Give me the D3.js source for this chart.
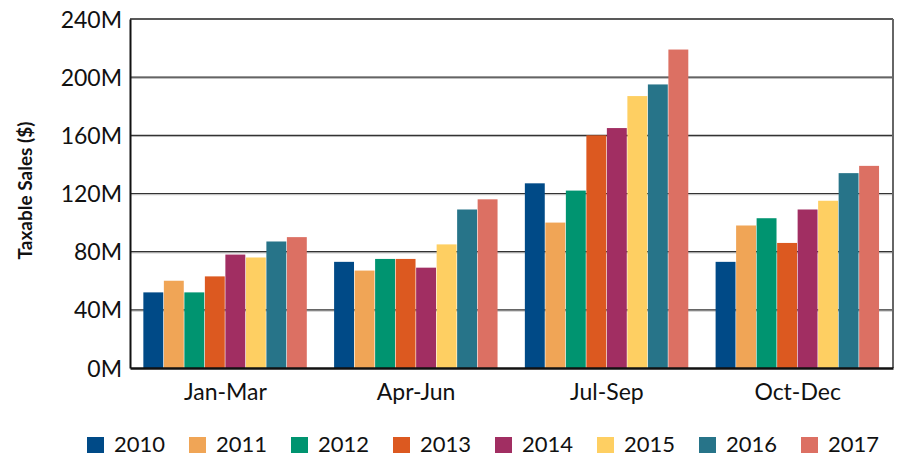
<!DOCTYPE html>
<html>
<head>
<meta charset="utf-8">
<script src="https://cdn.jsdelivr.net/npm/d3@7"></script>
<style>
    body { margin: 0; background: #fff; }
    text { font-family: Lato, "Open Sans", sans-serif; fill: #111; }
</style>
</head>
<body>
<svg id="chart"></svg>
<script>
// Quarterly taxable sales, millions of dollars
const quarters = ['Jan-Mar', 'Apr-Jun', 'Jul-Sep', 'Oct-Dec'];
const years = ['2010', '2011', '2012', '2013', '2014', '2015', '2016', '2017'];
const colors = ['#004a87', '#f0a556', '#009470', '#dc5920', '#a12e62', '#fecf62', '#277489', '#dc7063'];

const sales2010 = [52, 73, 127, 73];
const sales2011 = [60, 67, 100, 98];
const sales2012 = [52, 75, 122, 103];
const sales2013 = [63, 75, 160, 86];
const sales2014 = [78, 69, 165, 109];
const sales2015 = [76, 85, 187, 115];
const sales2016 = [87, 109, 195, 134];
const sales2017 = [90, 116, 219, 139];
const series = [sales2010, sales2011, sales2012, sales2013, sales2014, sales2015, sales2016, sales2017];

const yTicks = [0, 40, 80, 120, 160, 200, 240];

const width = 902, height = 457;
const margin = { top: 19, right: 9, bottom: 89, left: 130 };
const innerW = width - margin.left - margin.right;
const innerH = height - margin.top - margin.bottom;

const svg = d3.select('#chart')
    .attr('width', width)
    .attr('height', height);

const g = svg.append('g')
    .attr('transform', `translate(${margin.left},${margin.top})`);

const x0 = d3.scaleBand()
    .domain(quarters)
    .range([0, innerW])
    .paddingInner(0.14)
    .paddingOuter(0.07);

const x1 = d3.scaleBand()
    .domain(years)
    .range([0, x0.bandwidth()]);

const y = d3.scaleLinear()
    .domain([0, 240])
    .range([innerH, 0]);

// gridlines (dark line with a light shadow under it)
const grid = g.append('g').attr('class', 'grid');
grid.selectAll('line.shadow')
    .data(yTicks.slice(1, -1))
    .enter().append('line')
    .attr('class', 'shadow')
    .attr('x1', 0).attr('x2', innerW)
    .attr('y1', d => y(d) + 1.2).attr('y2', d => y(d) + 1.2)
    .attr('stroke', '#b5b5b5')
    .attr('stroke-width', 1);
grid.selectAll('line.main')
    .data(yTicks.slice(1, -1))
    .enter().append('line')
    .attr('class', 'main')
    .attr('x1', 0).attr('x2', innerW)
    .attr('y1', d => y(d)).attr('y2', d => y(d))
    .attr('stroke', '#333')
    .attr('stroke-width', 1.2);

// bars
const rows = quarters.map((q, qi) => ({
    quarter: q,
    values: years.map((yr, si) => ({ year: yr, value: series[si][qi], color: colors[si] }))
}));

g.append('g')
    .selectAll('g')
    .data(rows)
    .enter().append('g')
    .attr('transform', d => `translate(${x0(d.quarter)},0)`)
    .selectAll('rect')
    .data(d => d.values)
    .enter().append('rect')
    .attr('x', d => x1(d.year))
    .attr('y', d => y(d.value))
    .attr('width', x1.bandwidth() - 0.6)
    .attr('height', d => innerH - y(d.value))
    .attr('fill', d => d.color);

// frame
g.append('line')
    .attr('x1', 0).attr('x2', innerW)
    .attr('y1', 0).attr('y2', 0)
    .attr('stroke', '#222').attr('stroke-width', 1.5);
g.append('line')
    .attr('x1', innerW).attr('x2', innerW)
    .attr('y1', 0).attr('y2', innerH)
    .attr('stroke', '#666').attr('stroke-width', 2);

// y axis
const yAxis = g.append('g')
    .call(d3.axisLeft(y).tickValues(yTicks).tickSize(0).tickPadding(8).tickFormat(d => d + 'M'));
yAxis.select('.domain').attr('stroke', '#111').attr('stroke-width', 2);
yAxis.selectAll('text')
    .style('font-size', '23px')
    .attr('dy', '0.35em');

// x axis
const xAxis = g.append('g')
    .attr('transform', `translate(0,${innerH})`)
    .call(d3.axisBottom(x0).tickSize(0).tickPadding(16));
xAxis.select('.domain').attr('stroke', '#111').attr('stroke-width', 2.5);
xAxis.selectAll('text')
    .style('font-size', '23px');

// axis title
svg.append('text')
    .attr('transform', `translate(32,${margin.top + innerH / 2 - 3}) rotate(-90)`)
    .attr('text-anchor', 'middle')
    .style('font-size', '19px')
    .style('font-weight', 'bold')
    .text('Taxable Sales ($)');

// legend
const legend = svg.append('g')
    .attr('transform', 'translate(87,437)');
const item = legend.selectAll('g')
    .data(years)
    .enter().append('g')
    .attr('transform', (d, i) => `translate(${i * 102},0)`);
item.append('rect')
    .attr('width', 17)
    .attr('height', 16)
    .attr('fill', (d, i) => colors[i]);
item.append('text')
    .attr('x', 27)
    .attr('y', 15)
    .style('font-size', '22px')
    .text(d => d);
</script>
</body>
</html>
